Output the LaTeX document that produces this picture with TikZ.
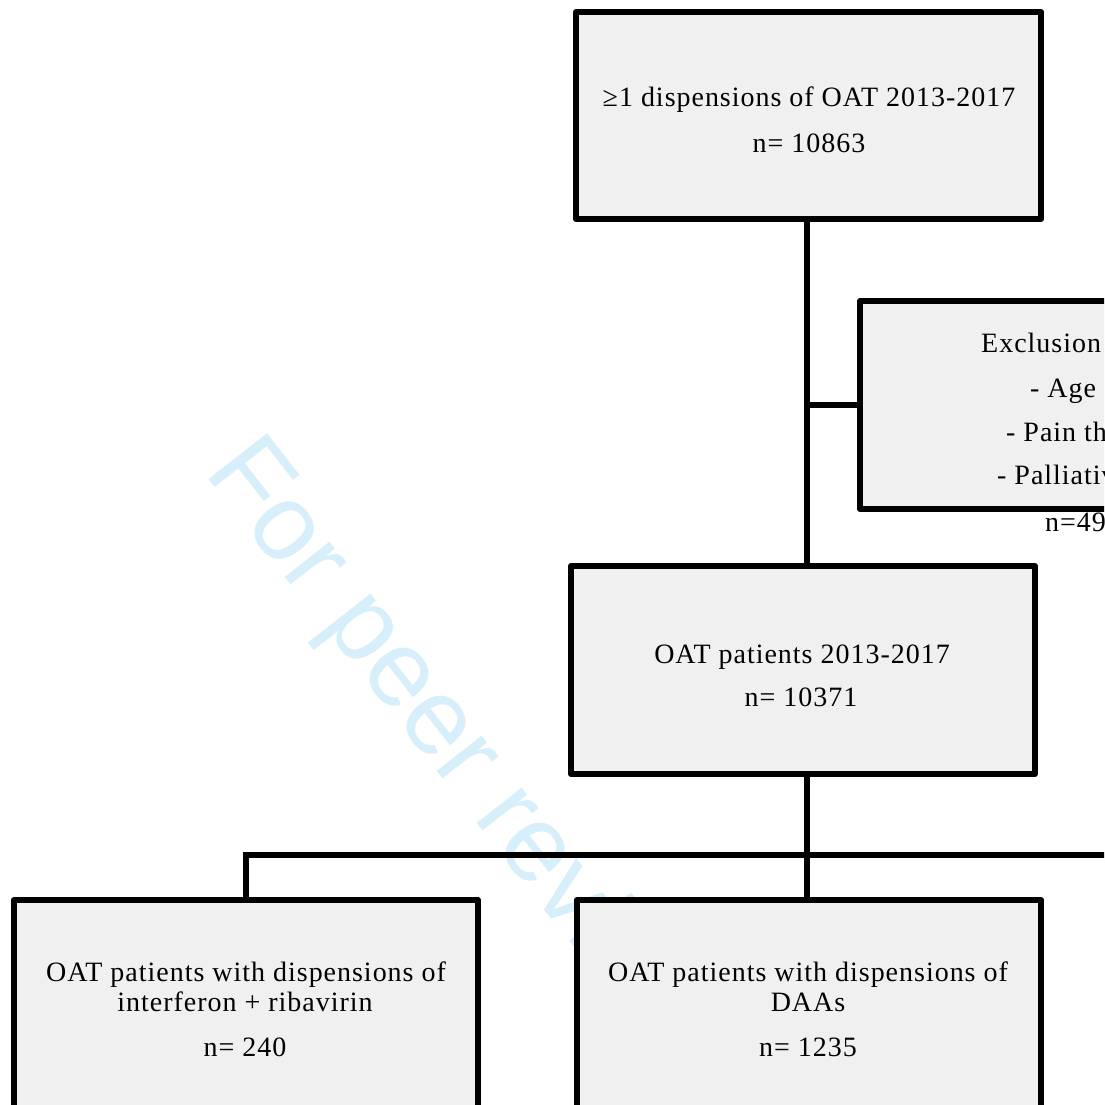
\documentclass[tikz,border=0pt]{standalone}
\usepackage{fontspec}
\setmainfont{Liberation Serif}[LetterSpace=3.5]
\newfontfamily\wmfont{Liberation Sans}
\definecolor{boxfill}{HTML}{F0F0F0}
\definecolor{wmblue}{HTML}{D6EFFA}
\begin{document}
\begin{tikzpicture}[x=1pt,y=-1pt,
  box/.style={draw=black, line width=6pt, fill=boxfill, rectangle, inner sep=0pt, line join=round},
  conn/.style={draw=black, line width=6pt},
  lbl/.style={anchor=base, font=\fontsize{28}{32}\selectfont, inner sep=0pt},
  lblw/.style={lbl, anchor=base west}]
\useasboundingbox (0,0) rectangle (1104,1105);
\clip (0,0) rectangle (1104,1105);
\fill[white] (0,0) rectangle (1104,1105);
% watermark
\node[rotate=-52, anchor=base west, text=wmblue, font=\wmfont\fontsize{108}{108}\selectfont, inner sep=0pt] (wm) at (203,472) {For peer review};
% connectors
\coordinate (j1) at (807,405);
\coordinate (bar) at (807,855);
\coordinate (barR) at (1200,855);
% boxes
\node[box, minimum width=465pt, minimum height=207pt] (top) at (808.5,115.5) {};
\node[box, minimum width=470pt, minimum height=208pt] (excl) at (1095,405) {};
\node[box, minimum width=464pt, minimum height=208pt] (mid) at (803,670) {};
\node[box, minimum width=464pt, minimum height=208pt] (bl) at (246,1004) {};
\node[box, minimum width=464pt, minimum height=208pt] (bm) at (809,1004) {};
\draw[conn] ([xshift=-1.5pt]top.south) -- ([xshift=4pt]mid.north);
\draw[conn] (j1) -- (excl.west);
\draw[conn] ([xshift=4pt]mid.south) -- (bar);
\draw[conn] (bl.north) |- (barR);
\draw[conn] (bar) -- (bar |- bm.north);
% texts
\node[lbl] (t1) at (809,107) {≥1 dispensions of OAT 2013-2017};
\node[lbl] (t2) at (809,153) {n= 10863};
\node[lblw] (e1) at (981,352) {Exclusion criteria};
\node[lblw] (e2) at (1030,397) {- Age};
\node[lblw] (e3) at (1006,441) {- Pain therapy};
\node[lblw] (e4) at (997,484) {- Palliative care};
\node[lblw] (e5) at (1045,531) {n=492};
\node[lbl] (m1) at (802,663) {OAT patients 2013-2017};
\node[lbl] (m2) at (801,706) {n= 10371};
\node[lbl] (l1) at (246,981) {OAT patients with dispensions of};
\node[lbl] (l2) at (245,1011) {interferon + ribavirin};
\node[lbl] (l3) at (245,1056) {n= 240};
\node[lbl] (r1) at (808,981) {OAT patients with dispensions of};
\node[lbl] (r2) at (808,1011) {DAAs};
\node[lbl] (r3) at (808,1056) {n= 1235};
\end{tikzpicture}
\end{document}
